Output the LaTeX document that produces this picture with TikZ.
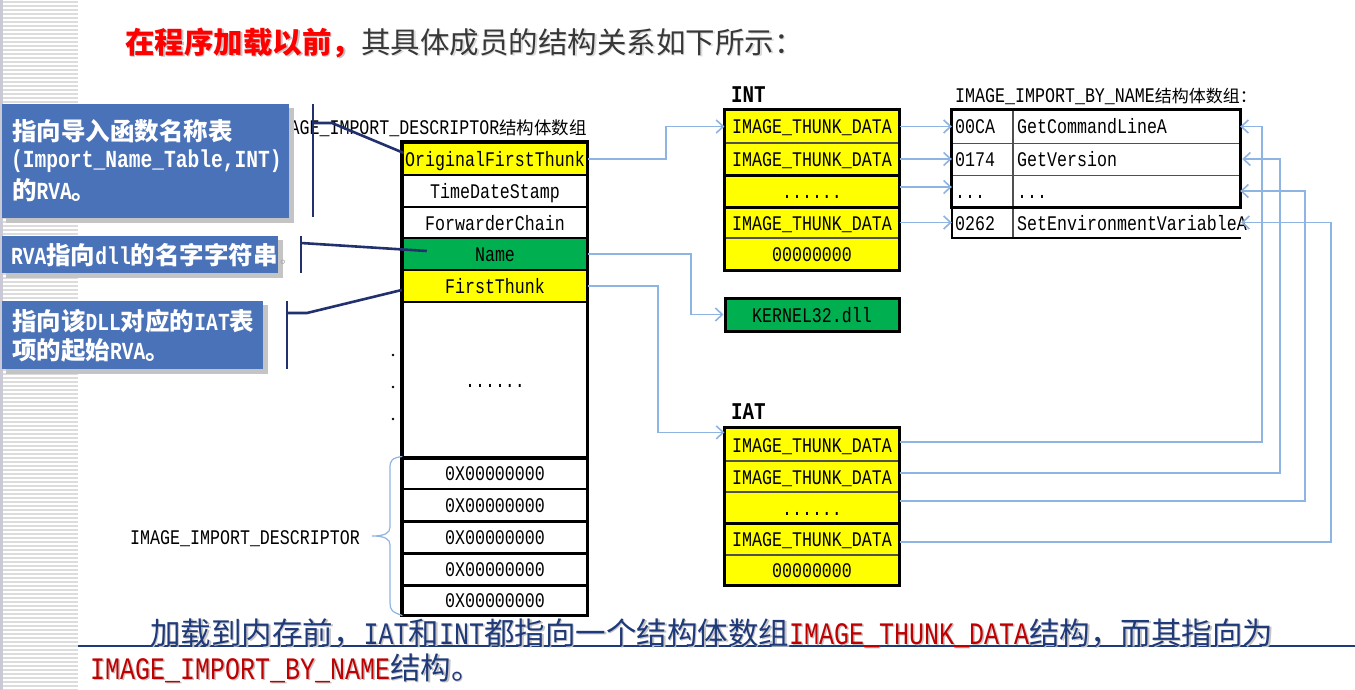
\documentclass[tikz,border=0pt]{standalone}
\usepackage{fontspec}
\setmainfont{Liberation Mono}[FakeStretch=0.8]
\newfontfamily\cjk{Noto Sans CJK SC}
\usetikzlibrary{arrows.meta,calc}
\newcommand\fs[1]{\fontsize{#1}{#1}\selectfont}
\definecolor{yel}{HTML}{FFFF00}
\definecolor{grn}{HTML}{00B050}
\definecolor{callout}{HTML}{4A72B8}
\definecolor{navy}{HTML}{22306E}
\definecolor{connc}{HTML}{8DB4E2}
\definecolor{tred}{HTML}{C00000}
\definecolor{tblue}{HTML}{1F3A7A}
\definecolor{tdark}{HTML}{383838}
\definecolor{tr}{HTML}{FF0000}
\definecolor{shad}{HTML}{C4C4C4}
\definecolor{stripe}{HTML}{DCDCDC}
\definecolor{edgec}{HTML}{CACAD6}
\definecolor{thinc}{HTML}{505050}
\newcommand\bottomA{{\cjk\fs{30.5}加载到内存前，}{\fs{31.25}IAT}{\cjk\fs{30.5}和}{\fs{31.25}INT}{\cjk\fs{30.5}都指向一个结构体数组}{\color{tred}\fs{31.25}IMAGE\_THUNK\_DATA}{\cjk\fs{30.5}结构，而其指向为}}
\newcommand\bottomB{{\color{tred}\fs{31.25}IMAGE\_IMPORT\_BY\_NAME}{\cjk\fs{30.5}结构。}}
\newcommand\titleA{{\color{tr}\cjk\bfseries 在程序加载以前，}{\color{tdark}\cjk 其具体成员的结构关系如下所示：}}
\tikzset{
  drow/.style={draw=black, line width=2.5pt, minimum width=184pt, inner sep=0pt,
     text height=16pt, text depth=1pt, font=\fs{20.8}},
  trow/.style={draw=thinc, line width=1.2pt, fill=yel, minimum width=174pt, inner sep=0pt,
     text height=16pt, text depth=1pt, font=\fs{20.8}},
  ntext/.style={inner sep=0pt, anchor=west, text height=16pt, text depth=1pt, font=\fs{20.8}},
  nrow/.style={inner sep=0pt, minimum width=288pt},
  conn/.style={draw=connc, line width=1.6pt},
  arr/.style={conn, -{Straight Barb[length=7pt,width=13pt]}},
  calloutbox/.style={fill=callout, inner sep=0pt, anchor=north west},
  cshadow/.style={fill=shad},
  ctext/.style={inner sep=0pt, anchor=west, text=white, font=\fs{24.5}\bfseries},
  bracket/.style={draw=navy, line width=2.6pt},
  lbl/.style={inner sep=0pt, font=\fs{20.8}},
  bigtext/.style={inner sep=0pt, anchor=west},
}
\begin{document}
\begin{tikzpicture}[x=1pt,y=-1pt]
\useasboundingbox (0,0) rectangle (1355,690);
\fill[white] (0,0) rectangle (1355,690);
% left stripes
\fill[edgec] (0,0) rectangle (3,690);
\foreach \yy in {2,6,...,690} \draw[stripe, line width=1.3pt] (3,\yy) -- (78,\yy);

% title
\node[bigtext, font=\fs{29.5}, text=shad] (titles) at (126.5,44.5) {\colorlet{tr}{shad}\colorlet{tdark}{shad!60}\titleA};
\node[bigtext, font=\fs{29.5}] (title) at (125,43) {\titleA};

% header labels
\node[lbl, anchor=east] (hdesc) at (587,128) {IMAGE\_IMPORT\_DESCRIPTOR{\cjk\fs{17.5}结构体数组}};
\node[lbl, anchor=west] (hbyname) at (955,96) {IMAGE\_IMPORT\_BY\_NAME{\cjk\fs{17}结构体数组：}};
\node[inner sep=0pt, anchor=west, font=\fs{24}\bfseries] (lint) at (731,95) {INT};
\node[inner sep=0pt, anchor=west, font=\fs{24}\bfseries] (liat) at (731,412) {IAT};

% descriptor table
\node[drow, fill=yel, minimum height=32pt] (d1) at (495,159) {OriginalFirstThunk};
\node[drow, minimum height=32pt] (d2) at (495,191) {TimeDateStamp};
\node[drow, minimum height=31pt] (d3) at (495,222.5) {ForwarderChain};
\node[drow, fill=grn, minimum height=32pt] (d4) at (495,254) {Name};
\node[drow, fill=yel, minimum height=32pt] (d5) at (495,286) {FirstThunk};
\node[drow, minimum height=155pt] (d6) at (495,379.5) {......};
\node[drow, line width=1.2pt, minimum height=32pt] (d7) at (495,473) {0X00000000};
\node[drow, line width=1.2pt, minimum height=32pt] (d8) at (495,505) {0X00000000};
\node[drow, line width=1.2pt, minimum height=32pt] (d9) at (495,537) {0X00000000};
\node[drow, line width=1.2pt, minimum height=32pt] (d10) at (495,569) {0X00000000};
\node[drow, line width=1.2pt, minimum height=30pt] (d11) at (495,600) {0X00000000};
\draw[line width=2.5pt] (d6.south west) -- (d6.south east);
\draw[line width=2.5pt] (d8.south west) -- (d8.south east);
\draw[line width=2pt] (d9.south west) -- (d9.south east);
\draw[line width=2.5pt] (d10.south west) -- (d10.south east);
\draw[line width=3pt] (d1.north west) rectangle (d11.south east);
\foreach \yy [count=\k] in {355,387,419} \fill (393,\yy) circle (1.3pt) coordinate (dot\k);

% brace
\draw[conn, line width=1.2pt] (d7.north west) .. controls (392,458) and (390,460) .. (390,468) -- (390,527)
  .. controls (390,533) and (385,536) .. (372,536) coordinate (btip)
  .. controls (385,536) and (390,539) .. (390,545) -- (390,603)
  .. controls (390,610) and (392,612) .. (d11.south west);
\node[lbl, anchor=west] (blabel) at (130,539) {IMAGE\_IMPORT\_DESCRIPTOR};

% INT table
\node[trow, minimum height=33pt] (i1) at (812,126.5) {IMAGE\_THUNK\_DATA};
\node[trow, minimum height=32pt] (i2) at (812,159) {IMAGE\_THUNK\_DATA};
\node[trow, minimum height=32pt] (i3) at (812,191) {......};
\node[trow, minimum height=31pt] (i4) at (812,222.5) {IMAGE\_THUNK\_DATA};
\node[trow, minimum height=32pt] (i5) at (812,254) {00000000};
\draw[line width=2.5pt] (i2.south west) -- (i2.south east);
\draw[line width=2.5pt] (i3.south west) -- (i3.south east);
\draw[line width=3pt] (i1.north west) rectangle (i5.south east);

% KERNEL32
\node[drow, fill=grn, line width=3pt, minimum width=174pt, minimum height=33pt] (k) at (812,314.5) {KERNEL32.dll};

% IAT table
\node[trow, minimum height=33pt] (a1) at (812,444.5) {IMAGE\_THUNK\_DATA};
\node[trow, minimum height=31pt] (a2) at (812,476.5) {IMAGE\_THUNK\_DATA};
\node[trow, minimum height=31pt] (a3) at (812,507.5) {......};
\node[trow, minimum height=32pt] (a4) at (812,539) {IMAGE\_THUNK\_DATA};
\node[trow, minimum height=30pt] (a5) at (812,570) {00000000};
\draw[line width=2.5pt] (a3.south west) -- (a3.south east);
\draw[line width=3pt] (a1.north west) rectangle (a5.south east);

% IMAGE_IMPORT_BY_NAME table
\node[nrow, minimum height=33pt] (n1) at (1096,126.5) {};
\node[nrow, minimum height=32pt] (n2) at (1096,159) {};
\node[nrow, minimum height=32pt] (n3) at (1096,191) {};
\node[nrow, minimum height=31pt, minimum width=289pt] (n4) at (1096.5,222.5) {};
\draw[thinc, line width=1.2pt] (n1.south west) -- (n1.south east);
\draw[thinc, line width=1.2pt] (n2.south west) -- (n2.south east);
\draw[thinc, line width=1.2pt] (1013,110) -- (1013,238);
\draw[line width=3pt] (n1.north west) rectangle (n3.south east);
\draw[line width=2.5pt] (n4.north west) -- (n4.south west) -- (n4.south east);
\node[ntext] (n1a) at (955,126.5) {00CA};
\node[ntext] (n1b) at (1017,126.5) {GetCommandLineA};
\node[ntext] (n2a) at (955,159) {0174};
\node[ntext] (n2b) at (1017,159) {GetVersion};
\node[ntext] (n3a) at (955,191) {...};
\node[ntext] (n3b) at (1017,191) {...};
\node[ntext] (n4a) at (955,222.5) {0262};
\node[ntext] (n4b) at (1017,222.5) {SetEnvironmentVariableA};

% connectors
\draw[arr] (d1.east) -- ++(78,0) |- (i1.west);
\draw[arr] (d4.east) -- ++(103,0) |- (k.west);
\draw[arr] (d5.east) -- ++(70,0) |- ([yshift=-5pt]a1.north west);
\draw[arr] (i1.east) -- (n1.west);
\draw[arr] (i2.east) -- (n2.west);
\draw[arr] ([yshift=4pt]i3.east) -- ([yshift=4pt]n3.west);
\draw[arr] (i4.east) -- (n4.west);
\draw[arr] ([yshift=2.5pt]a1.east) -| ([xshift=22pt]n1.east) -- (n1.east);
\draw[arr] ([yshift=3.5pt]a2.east) -| ([xshift=40pt]n2.east) -- ([xshift=2pt]n2.east);
\draw[arr] ([yshift=6.5pt]a3.east) -| ([xshift=65pt]n3.east) -- (n3.east);
\draw[arr] ([yshift=-3pt]a4.east) -| ([xshift=90pt]n4.east) -- (n4.east);

% callouts
\fill[cshadow] (6,108) rectangle (294,223);
\node[calloutbox, minimum width=287pt, minimum height=114pt] (b1) at (2,104) {};
\fill[cshadow] (6,240) rectangle (283,278);
\node[calloutbox, minimum width=276pt, minimum height=37pt] (b2) at (2,236) {};
\fill[cshadow] (6,305) rectangle (268,374);
\node[calloutbox, minimum width=261pt, minimum height=68pt] (b3) at (2,301) {};
\node[ctext] (b1l1) at (12,131) {{\cjk\bfseries 指向导入函数名称表}};
\node[ctext] (b1l2) at (11,161) {(Import\_Name\_Table,INT)};
\node[ctext] (b1l3) at (12,190) {{\cjk\bfseries 的}RVA{\cjk\bfseries 。}};
\node[ctext] (b2l1) at (11,255) {RVA{\cjk\bfseries 指向}dll{\cjk\bfseries 的名字字符串}};
\node[inner sep=0pt, anchor=west, text=gray!70, font=\fs{14}] (b2end) at (280,262) {{\cjk 。}};
\node[ctext] (b3l1) at (12,321) {{\cjk\bfseries 指向该}DLL{\cjk\bfseries 对应的}IAT{\cjk\bfseries 表}};
\node[ctext] (b3l2) at (12,350) {{\cjk\bfseries 项的起始}RVA{\cjk\bfseries 。}};

% callout brackets
\coordinate (k1) at (313,123);
\coordinate (k2) at (301,243);
\coordinate (k3) at (287,313);
\draw[bracket] (313,104) -- (313,217);
\draw[bracket] (k1) -- ++(19,0) -- ($(d1.west)+(2,-6)$);
\draw[bracket] (301,236) -- (301,273);
\draw[bracket] (k2) -- ($(d4.west)+(25,-3)$);
\draw[bracket] (287,301) -- (287,369);
\draw[bracket] (k3) -- ++(20,0) -- ($(d5.west)+(0,4)$);

% bottom text
\draw[tblue, line width=1.5pt] (78,646) -- (1355,646);
\node[bigtext, text=shad] (botAs) at (151.5,634.5) {\colorlet{tred}{shad}\bottomA};
\node[bigtext, text=tblue] (botA) at (150,633) {\bottomA};
\node[bigtext, text=shad] (botBs) at (91.5,669.5) {\colorlet{tred}{shad}\bottomB};
\node[bigtext, text=tblue] (botB) at (90,668) {\bottomB};
\end{tikzpicture}
\end{document}
